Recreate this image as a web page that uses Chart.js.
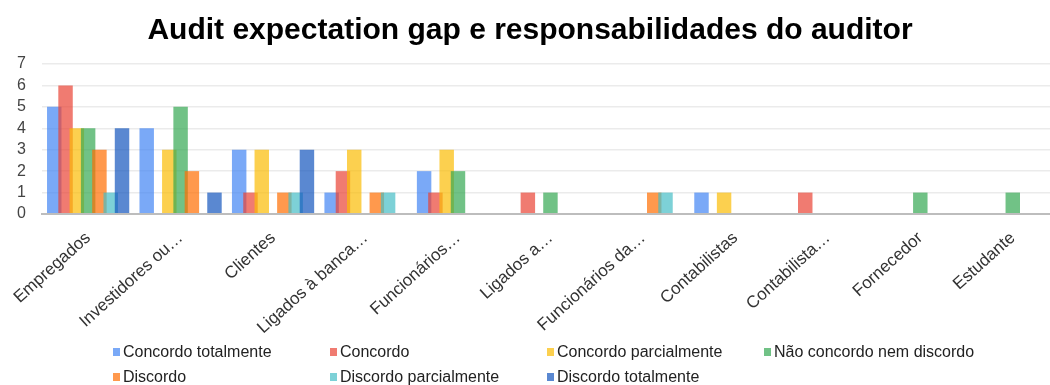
<!DOCTYPE html>
<html>
<head>
<meta charset="utf-8">
<script src="https://cdn.jsdelivr.net/npm/chart.js@4.4.0/dist/chart.umd.min.js"></script>
<style>
  html, body { margin: 0; padding: 0; background: #fff; overflow: hidden; }
  #wrap { position: relative; width: 1050px; height: 385px; overflow: hidden; }
  #gapChart { position: absolute; left: 0; top: 0; }
  #legend {
    position: absolute; left: 113px; top: 339px;
    display: grid; grid-template-columns: 217px 217px 217px 217px;
    grid-auto-rows: 25px;
    font-family: "Liberation Sans", Arial, sans-serif; font-size: 16px; color: #222;
  }
  #legend .item { display: flex; align-items: center; white-space: nowrap; }
  #legend .box { width: 7px; height: 8px; margin-right: 3px; }
</style>
</head>
<body>
<div id="wrap">
  <canvas id="gapChart" width="1076" height="385"></canvas>
  <div id="legend"></div>
</div>
<script>
const categories = [
  "Empregados", "Investidores ou…", "Clientes", "Ligados à banca…", "Funcionários…",
  "Ligados a…", "Funcionários da…", "Contabilistas", "Contabilista…", "Fornecedor", "Estudante"
];

const concordoTotalmente    = [5, 4, 3, 1, 2, 0, 0, 1, 0, 0, 0];
const concordo              = [6, 0, 1, 2, 1, 1, 0, 0, 1, 0, 0];
const concordoParcialmente  = [4, 3, 3, 3, 3, 0, 0, 1, 0, 0, 0];
const naoConcordoNemDiscordo = [4, 5, 0, 0, 2, 1, 0, 0, 0, 1, 1];
const discordo              = [3, 2, 1, 1, 0, 0, 1, 0, 0, 0, 0];
const discordoParcialmente  = [1, 0, 1, 1, 0, 0, 1, 0, 0, 0, 0];
const discordoTotalmente    = [4, 1, 3, 0, 0, 0, 0, 0, 0, 0, 0];

const yTicks = [0, 1, 2, 3, 4, 5, 6, 7];

const colors = {
  blue: "rgba(66, 133, 244, 0.7)",
  red: "rgba(234, 67, 53, 0.7)",
  yellow: "rgba(251, 188, 4, 0.7)",
  green: "rgba(52, 168, 83, 0.7)",
  orange: "rgba(255, 109, 1, 0.7)",
  teal: "rgba(70, 189, 198, 0.7)",
  navy: "rgba(20, 86, 189, 0.7)"
};

const series = [
  { label: "Concordo totalmente", data: concordoTotalmente, color: colors.blue },
  { label: "Concordo", data: concordo, color: colors.red },
  { label: "Concordo parcialmente", data: concordoParcialmente, color: colors.yellow },
  { label: "Não concordo nem discordo", data: naoConcordoNemDiscordo, color: colors.green },
  { label: "Discordo", data: discordo, color: colors.orange },
  { label: "Discordo parcialmente", data: discordoParcialmente, color: colors.teal },
  { label: "Discordo totalmente", data: discordoTotalmente, color: colors.navy }
];

// draw datasets left to right so each bar sits on top of its left neighbour
const forwardDraw = {
  id: "forwardDraw",
  beforeDatasetsDraw(chart) {
    const { ctx, chartArea } = chart;
    ctx.save();
    ctx.beginPath();
    ctx.rect(chartArea.left, chartArea.top - 5, chartArea.width, chartArea.height + 5);
    ctx.clip();
    chart.data.datasets.forEach((ds, i) => chart.getDatasetMeta(i).controller.draw());
    ctx.restore();
    return false;
  }
};

const chart = new Chart(document.getElementById("gapChart"), {
  type: "bar",
  data: {
    labels: categories,
    datasets: series.map(s => ({
      label: s.label,
      data: s.data,
      backgroundColor: s.color,
      borderWidth: 0,
      categoryPercentage: 0.855,
      barPercentage: 1.28
    }))
  },
  plugins: [forwardDraw],
  options: {
    responsive: false,
    animation: false,
    layout: {
      padding: { left: 1, right: 17, top: 0, bottom: 51 }
    },
    plugins: {
      legend: { display: false },
      tooltip: { enabled: false },
      title: {
        display: true,
        text: "Audit expectation gap e responsabilidades do auditor",
        color: "#000",
        font: { family: "Liberation Sans", size: 30, weight: "bold" },
        padding: { top: 13, bottom: 15 }
      }
    },
    scales: {
      x: {
        grid: { display: false },
        border: { display: true, color: "#bdbdbd", width: 2, z: 1 },
        ticks: {
          color: "#333",
          font: { family: "Liberation Sans", size: 17 },
          maxRotation: 42,
          minRotation: 42,
          autoSkip: false,
          padding: 6
        },
        afterFit: (scale) => {
          // rotated labels are allowed to run past the plot edges
          scale.height = 120;
          scale.paddingLeft = 0;
          scale.paddingRight = 0;
        }
      },
      y: {
        min: 0,
        max: 7,
        afterBuildTicks: (scale) => { scale.ticks = yTicks.map(v => ({ value: v })); },
        grid: { color: "#ebebeb", lineWidth: 1.5, drawTicks: false },
        border: { display: false },
        ticks: {
          autoSkip: false,
          color: "#444",
          font: { family: "Liberation Sans", size: 16 },
          padding: 16
        }
      }
    }
  }
});

// legend laid out in fixed columns under the chart
const legendEl = document.getElementById("legend");
chart.data.datasets.forEach(ds => {
  const item = document.createElement("div");
  item.className = "item";
  const box = document.createElement("span");
  box.className = "box";
  box.style.background = ds.backgroundColor;
  const text = document.createElement("span");
  text.textContent = ds.label;
  item.appendChild(box);
  item.appendChild(text);
  legendEl.appendChild(item);
});
</script>
</body>
</html>
